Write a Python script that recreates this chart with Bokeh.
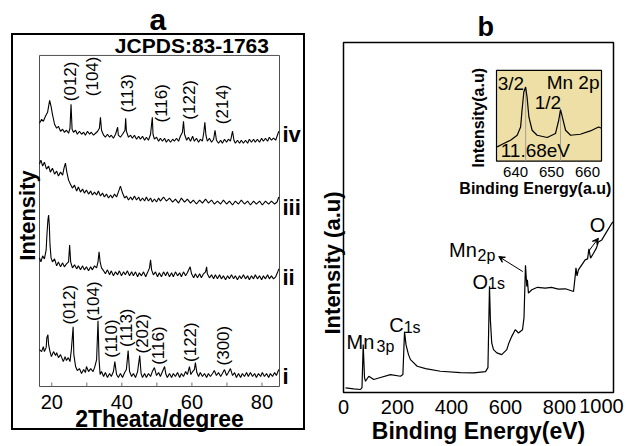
import math
from bokeh.plotting import figure
from bokeh.layouts import row
from bokeh.models import (Range1d, FixedTicker, Label, Arrow, VeeHead, LinearAxis, Title,
                          InlineStyleSheet)
from bokeh.core.properties import value
from bokeh.embed import file_html
from bokeh.resources import INLINE

FONT = "Liberation Sans"

# ---------------- Panel a : XRD patterns (2theta, intensity a.u., stacked) ----------------
tt_iv = [16.5, 17.1, 17.6, 18.2, 18.8, 19.2, 19.4, 19.8, 20.2, 20.8, 21.4, 21.9, 22.5, 23.1, 23.6, 24.2, 24.8,
         25.2, 25.5, 25.8, 26.2, 26.8, 27.3, 27.9, 28.5, 29.1, 29.6, 30.2, 30.8, 31.3, 31.9, 32.5, 33.1, 33.6,
         33.9, 34.2, 34.8, 35.3, 35.9, 36.5, 37.0, 37.6, 38.2, 38.8, 39.0, 39.6, 40.2, 40.9, 41.1, 41.3, 41.9,
         42.5, 43.0, 43.6, 44.2, 44.8, 45.3, 45.9, 46.5, 47.0, 47.6, 48.2, 48.7, 48.9, 49.3, 49.9, 50.5, 51.0,
         51.6, 52.2, 52.7, 53.3, 53.9, 54.5, 55.0, 55.6, 56.2, 56.7, 57.3, 57.6, 57.9, 58.5, 59.0, 59.6, 60.2,
         60.7, 61.3, 61.9, 62.4, 63.0, 63.4, 63.7, 64.0, 64.4, 65.0, 65.6, 66.2, 66.6, 67.0, 67.6, 68.2, 68.7,
         69.3, 69.9, 70.4, 71.0, 71.6, 72.0, 72.4, 73.0, 73.6, 74.1, 74.7, 75.3, 75.9, 76.4, 77.0, 77.6, 78.1,
         78.7, 79.3, 79.9, 80.4, 81.0, 81.6, 82.1, 82.7, 83.3, 83.9, 84.4, 84.8]
int_iv = [264, 268, 266, 271, 275, 283, 287, 281, 273, 263, 259, 261, 256, 258, 255, 257, 254,
          259, 283, 258, 255, 257, 253, 256, 253, 255, 252, 256, 253, 255, 252, 254, 256, 259,
          270, 257, 252, 250, 253, 250, 252, 249, 253, 260, 252, 250, 253, 257, 269, 256, 250,
          252, 249, 252, 248, 251, 248, 251, 247, 250, 247, 253, 270, 253, 248, 250, 246, 249,
          246, 249, 245, 248, 245, 248, 246, 249, 246, 251, 255, 266, 253, 247, 250, 246, 251,
          246, 249, 245, 248, 246, 255, 265, 252, 246, 249, 245, 248, 257, 247, 244, 247, 244,
          248, 245, 248, 246, 256, 247, 244, 247, 244, 247, 244, 247, 244, 248, 245, 248, 245,
          248, 245, 249, 246, 249, 246, 250, 247, 249, 247, 252, 256]

tt_iii = [16.5, 16.9, 17.4, 17.9, 18.5, 19.1, 19.6, 20.2, 20.8, 21.4, 21.9, 22.5, 23.1, 23.5, 23.9, 24.3, 24.8,
          25.3, 25.9, 26.5, 27.1, 27.6, 28.2, 28.8, 29.3, 29.9, 30.5, 31.1, 31.6, 32.2, 32.8, 33.3, 33.9, 34.5,
          35.0, 35.6, 36.2, 36.8, 37.3, 37.9, 38.5, 39.0, 39.6, 40.2, 40.8, 41.3, 41.9, 42.5, 43.0, 43.6, 44.2,
          44.8, 45.3, 45.9, 46.5, 47.0, 47.6, 48.2, 48.7, 49.3, 49.9, 50.5, 51.0, 51.9, 52.7, 53.6, 54.5, 55.3,
          56.2, 57.0, 57.9, 58.7, 59.6, 60.4, 61.3, 62.2, 63.0, 63.9, 64.7, 65.6, 66.4, 67.3, 68.2, 69.0, 69.9,
          70.7, 71.6, 72.4, 73.3, 74.1, 75.0, 75.9, 76.7, 77.6, 78.4, 79.3, 80.1, 81.0, 81.9, 82.7, 83.6, 84.3,
          84.8]
int_iii = [223, 227, 221, 225, 218, 221, 215, 219, 213, 216, 211, 215, 212, 219, 224, 215, 207,
           203, 199, 202, 196, 200, 195, 198, 194, 197, 193, 196, 192, 195, 192, 196, 191, 194,
           190, 193, 189, 192, 189, 193, 190, 195, 201, 194, 189, 191, 187, 190, 187, 191, 187,
           190, 186, 189, 186, 190, 186, 189, 185, 188, 185, 189, 186, 190, 186, 189, 185, 188,
           184, 189, 185, 188, 184, 187, 183, 187, 184, 188, 184, 187, 183, 186, 183, 187, 183,
           186, 182, 186, 183, 187, 183, 186, 182, 186, 183, 186, 182, 186, 183, 186, 183, 185,
           190]

tt_ii = [16.5, 16.9, 17.4, 17.9, 18.4, 18.6, 18.9, 19.1, 19.3, 19.5, 19.8, 20.2, 20.8, 21.4, 21.9, 22.5, 23.1,
         23.6, 24.2, 24.8, 25.1, 25.4, 25.9, 26.5, 27.1, 27.6, 28.2, 28.8, 29.3, 29.9, 30.5, 31.1, 31.6, 32.2,
         32.8, 33.2, 33.5, 33.8, 34.2, 34.8, 35.3, 35.9, 36.5, 37.0, 37.6, 38.2, 38.8, 39.3, 39.9, 40.5, 41.0,
         41.6, 42.2, 42.8, 43.3, 43.9, 44.5, 45.0, 45.6, 46.2, 46.8, 47.3, 47.9, 48.2, 48.5, 49.0, 49.6, 50.2,
         50.7, 51.3, 51.9, 52.5, 53.0, 53.6, 54.2, 54.7, 55.3, 55.9, 56.5, 57.0, 57.6, 58.2, 58.7, 59.5, 59.9,
         60.5, 61.0, 61.6, 62.2, 62.7, 63.3, 63.9, 64.2, 64.4, 65.0, 65.6, 66.2, 66.7, 67.3, 67.9, 68.4, 69.0,
         69.6, 70.2, 70.7, 71.3, 71.9, 72.4, 73.0, 73.6, 74.1, 74.7, 75.3, 75.9, 76.4, 77.0, 77.6, 78.1, 78.7,
         79.3, 79.9, 80.4, 81.0, 81.6, 82.1, 82.7, 83.3, 83.9, 84.4, 84.8]
int_ii = [129, 125, 131, 128, 137, 151, 167, 172, 162, 142, 129, 125, 128, 121, 125, 120, 124,
          120, 123, 125, 142, 125, 119, 122, 118, 121, 117, 121, 117, 120, 116, 120, 117, 121,
          119, 125, 135, 125, 119, 116, 113, 117, 112, 116, 111, 115, 112, 116, 111, 115, 112,
          116, 111, 115, 111, 115, 110, 114, 111, 115, 110, 114, 119, 127, 117, 112, 115, 110,
          114, 110, 115, 111, 115, 110, 114, 110, 115, 111, 114, 110, 115, 111, 114, 120, 113,
          109, 113, 109, 113, 109, 113, 115, 120, 113, 109, 112, 108, 112, 108, 112, 108, 111,
          107, 111, 108, 112, 108, 111, 107, 111, 108, 112, 108, 111, 107, 111, 108, 112, 108,
          111, 107, 111, 108, 112, 108, 111, 108, 110, 114, 118]

tt_i = [16.5, 17.1, 17.6, 17.9, 18.4, 18.6, 18.9, 19.1, 19.5, 19.9, 20.5, 21.1, 21.4, 21.9, 22.5, 23.3, 23.8,
        24.2, 24.7, 25.2, 25.6, 26.1, 26.3, 26.8, 27.3, 27.9, 28.5, 29.1, 29.6, 29.9, 30.5, 31.1, 31.8, 32.3,
        32.8, 33.2, 33.5, 33.8, 34.2, 34.8, 35.3, 35.9, 36.5, 37.0, 37.6, 38.0, 38.5, 39.0, 39.6, 40.2, 40.8,
        41.3, 41.8, 42.2, 42.8, 43.3, 43.9, 44.5, 45.1, 45.5, 45.9, 46.5, 47.0, 47.6, 48.2, 48.7, 49.3, 49.9,
        50.5, 51.0, 51.6, 52.2, 52.6, 53.0, 53.6, 54.2, 54.7, 55.3, 55.9, 56.5, 57.0, 57.6, 58.2, 58.7, 59.3,
        59.7, 60.2, 60.7, 61.0, 61.4, 61.9, 62.4, 63.0, 63.6, 64.2, 64.7, 65.3, 65.9, 66.4, 67.0, 67.6, 68.2,
        68.7, 69.3, 69.9, 70.4, 71.0, 71.6, 72.2, 72.7, 73.3, 73.9, 74.4, 75.0, 75.6, 76.1, 76.7, 77.3, 77.9,
        78.4, 79.0, 79.6, 80.1, 80.7, 81.3, 81.9, 82.4, 83.0, 83.6, 84.1, 84.8]
int_i = [37, 35, 40, 35, 39, 49, 52, 42, 35, 30, 35, 31, 34, 29, 32, 25, 30,
         26, 29, 25, 37, 60, 32, 20, 16, 18, 13, 17, 14, 20, 15, 18, 15, 20,
         27, 66, 27, 12, 15, 10, 14, 9, 13, 10, 15, 25, 12, 9, 13, 9, 14,
         17, 36, 15, 10, 13, 9, 15, 31, 13, 9, 13, 9, 13, 10, 15, 19, 11,
         14, 10, 15, 20, 12, 9, 13, 9, 13, 10, 14, 9, 13, 10, 15, 12, 20,
         12, 15, 17, 24, 14, 10, 14, 10, 13, 9, 13, 10, 13, 16, 11, 14, 10,
         13, 17, 11, 14, 18, 11, 14, 9, 13, 9, 13, 10, 14, 10, 14, 10, 13,
         9, 13, 10, 14, 10, 13, 9, 13, 10, 14, 11, 17]

xrd_lo, xrd_hi = 16.5, 85.0          # 2theta limits of the XRD box
xrd_int_top = 332                    # intensity limit of the XRD box
xrd_ticks = [20, 40, 60, 80]
xrd_tick_marks = [20, 30, 40, 50, 60, 70, 80]
pattern_names = ["iv", "iii", "ii", "i"]
pattern_levels = [253, 180, 109, 10]

hkl_top = ["(012)", "(104)", "(113)", "(116)", "(122)", "(214)"]
hkl_bottom = ["(012)", "(104)", "(110)", "(113)", "(202)", "(116)", "(122)", "(300)"]

# ---------------- Panel b : XPS survey ----------------
be = [7.4, 38, 63, 68.5, 73, 77.8, 81.5, 93.7, 112, 137, 174, 211, 220, 226, 231.5, 236, 240.7, 248, 273,
      304, 359, 433, 482.6, 526, 535, 540.7, 544, 549, 555.6, 567.8, 586, 604.8, 613, 623.3, 636, 648,
      663, 668.5, 674, 678.9, 681, 685, 697.4, 718.5, 747, 770, 796, 822, 852, 858, 861, 865, 870, 895,
      904, 909, 915, 926, 937, 944, 956.7, 975, 993.7, 1000]
xps = [4.7, 3.7, 3, 5, 48, 15, 11.3, 16.3, 13, 15, 18, 16.3, 18, 61, 48, 43, 38, 33, 26.3,
       24, 21.3, 20, 19.7, 21, 25, 106.5, 73, 49.7, 43, 39.7, 38, 43, 50, 56.3, 63, 59.7,
       63, 75, 127.5, 106.3, 113, 99.7, 103, 105.5, 104.7, 105.5, 103.7, 104, 101.3, 116.3, 125, 117, 123, 133,
       134, 144, 134.7, 139.7, 145, 151, 153, 161.3, 169.7, 171.3]
be_lo, be_hi = 0, 1000               # binding-energy limits of the XPS box
xps_top = 351                        # intensity limit of the XPS box
be_ticks = [0, 200, 400, 600, 800]
be_last_tick = [1000]

# ---------------- Inset : Mn 2p ----------------
mn_be = [634.9, 636.7, 638.6, 640.45, 641.4, 641.8, 642.3, 642.8, 643.2, 643.7, 644.6, 646.0, 648.8, 651.1,
         652.0, 652.5, 653.0, 653.9, 655.3, 658.0, 660.8, 663.1, 663.9]
mn_int = [14.3, 17.7, 21, 26, 34.3, 51, 69.3, 74.3, 64.3, 44.3, 31, 26, 23.7, 27.7,
          41, 51.7, 44.3, 31, 26, 27, 30.3, 34.3, 33]
mn_peaks = [642.8, 652.5]
mn_peak_int = [74.3, 51.7]
mn_ticks = [640, 650, 660]


def no_ticks(ax):
    ax.axis_line_color = None
    ax.major_tick_in = 0
    ax.major_tick_out = 0
    ax.minor_tick_in = 0
    ax.minor_tick_out = 0


def style_label(ax, text, size, standoff):
    ax.axis_label = text
    ax.axis_label_text_font = FONT
    ax.axis_label_text_font_style = "bold"
    ax.axis_label_text_font_size = size
    ax.axis_label_text_color = "black"
    ax.axis_label_standoff = standoff


def style_ticklabels(ax, size, standoff):
    ax.major_label_text_font = FONT
    ax.major_label_text_font_size = size
    ax.major_label_text_color = "black"
    ax.major_label_standoff = standoff


def style_title(t, text, size, offset, standoff):
    t.text = text
    t.align = "left"
    t.offset = offset
    t.standoff = standoff
    t.text_font = FONT
    t.text_font_size = size
    t.text_font_style = "bold"
    t.text_color = "black"


# Both panels share the same frame rows (the row layout aligns frames); each box is drawn inside.
# =====================================================================
outer_box = InlineStyleSheet(css="""
:host { position: relative; }
:host::after { content: ""; position: absolute; left: 11px; top: 33px; width: 294px; height: 397px;
  border: 2px solid black; box-sizing: border-box; pointer-events: none; }
""")

px_a = 240 / (xrd_hi - xrd_lo)       # pixels per degree
pa = figure(width=318, height=446,
            x_range=Range1d(xrd_lo - 2 / px_a, xrd_hi + 2 / px_a), y_range=Range1d(-8, 351),
            output_backend="svg", toolbar_location=None, stylesheets=[outer_box],
            min_border_left=37, min_border_right=37, min_border_top=36, min_border_bottom=51)
pa.grid.visible = False
pa.outline_line_color = None

pa.quad(left=[xrd_lo], right=[xrd_hi], bottom=[0], top=[xrd_int_top], fill_color=None,
        line_color="#505050", line_width=1)
pa.segment(x0=xrd_tick_marks, y0=[0] * len(xrd_tick_marks), x1=xrd_tick_marks,
           y1=[4] * len(xrd_tick_marks), line_color="#707070", line_width=1)
for tt, yy in [(tt_iv, int_iv), (tt_iii, int_iii), (tt_ii, int_ii), (tt_i, int_i)]:
    pa.line(tt, yy, line_color="black", line_width=1.1)

xa = pa.xaxis[0]
xa.ticker = FixedTicker(ticks=xrd_ticks)
no_ticks(xa)
style_ticklabels(xa, "20px", 0)
style_label(xa, "2Theata/degree", "23px", -6)

ya = pa.yaxis[0]
ya.ticker = FixedTicker(ticks=[])
no_ticks(ya)
ya.major_label_standoff = 0
style_label(ya, "Intensity", "22px", -2)

# pattern names on a right-hand axis
ra = LinearAxis(ticker=FixedTicker(ticks=pattern_levels),
                major_label_overrides={lvl: nm for lvl, nm in zip(pattern_levels, pattern_names)})
no_ticks(ra)
style_ticklabels(ra, "22px", 1)
ra.major_label_text_font_style = "bold"
pa.add_layout(ra, "right")

# hkl labels
top_x = [25.35, 31.6, 41.6, 51.3, 59.3, 68.7]
top_y = [306, 311, 294, 284, 287.5, 283]
bot_x = [25.1, 31.9, 37.0, 41.3, 45.9, 50.5, 59.6, 69.0]
bot_y = [82, 85.5, 48, 59, 53, 41, 44.5, 41]
pa.text(x=top_x + bot_x, y=top_y + bot_y, text=hkl_top + hkl_bottom, angle=math.pi / 2,
        text_font=value(FONT), text_font_size="17px", text_color="black",
        text_align="center", text_baseline="middle")
pa.text(x=[60.0], y=[341.5], text=["JCPDS:83-1763"], text_font=value(FONT), text_font_size="21px",
        text_font_style="bold", text_color="black", text_align="center", text_baseline="middle")

style_title(pa.title, "a", "30px", 112, 1)

# =====================================================================
px_b = 270 / (be_hi - be_lo)         # pixels per eV
pb = figure(width=308, height=446,
            x_range=Range1d(be_lo - 2 / px_b, be_hi + 2 / px_b), y_range=Range1d(-2, 357),
            output_backend="svg", toolbar_location=None,
            min_border_left=23, min_border_right=11, min_border_top=36, min_border_bottom=51)
pb.grid.visible = False
pb.outline_line_color = None

pb.quad(left=[be_lo], right=[be_hi], bottom=[0], top=[xps_top], fill_color=None,
        line_color="black", line_width=1.5)
pb.line(be, xps, line_color="black", line_width=1.2)

xb = pb.xaxis[0]
xb.ticker = FixedTicker(ticks=be_ticks)
no_ticks(xb)
style_ticklabels(xb, "20px", 5)

# last tick label sits left of the box edge, as in the original: second axis on a shifted range
shift = 12 / px_b
pb.extra_x_ranges = {"lbl": Range1d(pb.x_range.start + shift, pb.x_range.end + shift)}
xb2 = LinearAxis(x_range_name="lbl", ticker=FixedTicker(ticks=be_last_tick))
no_ticks(xb2)
style_ticklabels(xb2, "20px", -18)
style_label(xb2, "Binding Energy(eV)", "23px", 2)
pb.add_layout(xb2, "below")

yb = pb.yaxis[0]
yb.ticker = FixedTicker(ticks=[])
no_ticks(yb)
yb.major_label_standoff = 0
yb.axis_label_standoff = 0

style_title(pb.title, "b", "27px", 136, -10)
title_y = Title()
style_title(title_y, "Intensity (a.u)", "22px", 60, -6)
pb.add_layout(title_y, "left")

peak_labels = [("Mn", 63, 50.5, "20px"), ("3p", 155.6, 46.5, "16px"),
               ("C", 196, 68, "20px"), ("1s", 254, 64.7, "16px"),
               ("O", 507, 110.5, "20px"), ("1s", 566.7, 109.7, "16px"),
               ("Mn", 442.6, 143, "20px"), ("2p", 529.6, 137, "16px"),
               ("O", 940.7, 167.5, "20px")]
for t, xx, yy, fs in peak_labels:
    pb.add_layout(Label(x=xx, y=yy, text=t, text_font=FONT, text_font_size=fs, text_color="black",
                        text_align="center", text_baseline="middle"))
pb.add_layout(Arrow(end=VeeHead(size=6, line_color="black", line_width=1), x_start=664, y_start=121.3,
                    x_end=575, y_end=136.3, line_color="black", line_width=1))
pb.add_layout(Arrow(end=VeeHead(size=6, line_color="black", line_width=1), x_start=907, y_start=141.3,
                    x_end=944, y_end=154.7, line_color="black", line_width=1))

# inset (Mn 2p) drawn in its own coordinate system mapped into panel b
ins_x = Range1d(634.7, 663.9)
ins_y = Range1d(0, 91)
sub = pb.subplot(x_source=ins_x, y_source=ins_y,
                 x_target=Range1d(566.7, 955.6), y_target=Range1d(232, 323))
sub.quad(left=[ins_x.start], right=[ins_x.end], bottom=[ins_y.start], top=[ins_y.end],
         fill_color="#eedfa6", line_color="black", line_width=1.2)
sub.segment(x0=mn_peaks, y0=[0, 0], x1=mn_peaks, y1=mn_peak_int, line_color="#909090", line_width=0.8)
sub.line(mn_be, mn_int, line_color="black", line_width=1.2)
sub.text(x=mn_ticks, y=[-10.7] * 3, text=[str(t) for t in mn_ticks], text_font=value(FONT),
         text_font_size="15px", text_color="black", text_align="center", text_baseline="middle")
sub.text(x=[638.7, 656.0, 649.0, 645.5], y=[77.5, 78.5, 59.3, 11],
         text=["3/2", "Mn 2p", "1/2", "11.68eV"], text_font=value(FONT),
         text_font_size="19px", text_color="black", text_align="center", text_baseline="middle")
sub.text(x=[645.5], y=[-27.5], text=["Binding Energy(a.u)"], text_font=value(FONT),
         text_font_size="16px", text_font_style="bold", text_color="black",
         text_align="center", text_baseline="middle")
sub.text(x=[629.8], y=[43.5], text=["Intensity(a.u)"], angle=math.pi / 2, text_font=value(FONT),
         text_font_size="16px", text_font_style="bold", text_color="black",
         text_align="center", text_baseline="middle")

layout = row(pa, pb)
open("out.html", "w").write(file_html(layout, INLINE))
